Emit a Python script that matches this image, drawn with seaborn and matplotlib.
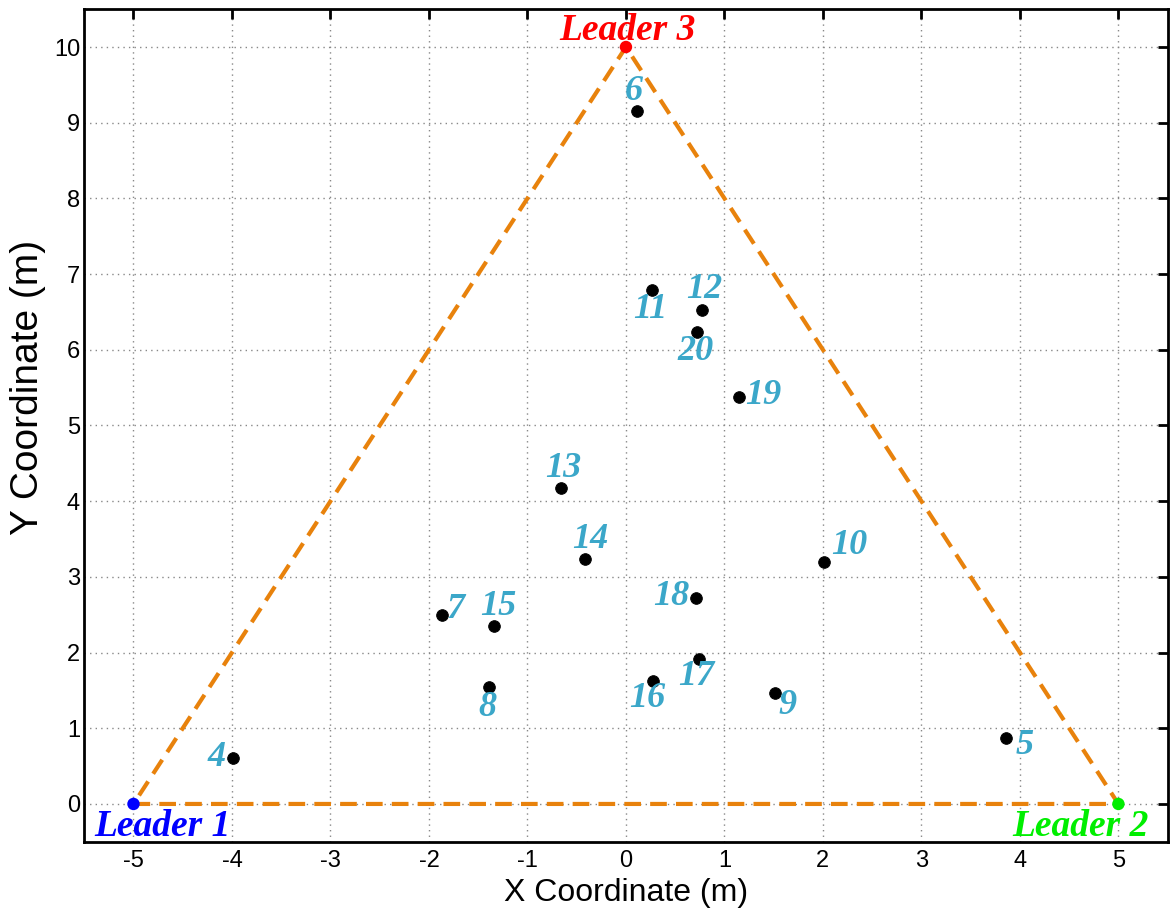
import matplotlib
matplotlib.use("Agg")
import matplotlib.pyplot as plt
import seaborn as sns
import pandas as pd

# ---- data ----
leader_names = ["Leader 1", "Leader 2", "Leader 3"]
leader_x = [-5.0, 5.0, 0.0]
leader_y = [0.0, 0.0, 10.0]

follower_ids = [4, 5, 6, 7, 8, 9, 10, 11, 12, 13, 14, 15, 16, 17, 18, 19, 20]
follower_x = [-3.99, 3.86, 0.11, -1.87, -1.39, 1.51, 2.01, 0.26, 0.77, -0.66,
              -0.42, -1.34, 0.27, 0.74, 0.71, 1.15, 0.72]
follower_y = [0.61, 0.87, 9.15, 2.50, 1.55, 1.47, 3.19, 6.79, 6.52, 4.18,
              3.24, 2.35, 1.63, 1.92, 2.72, 5.38, 6.24]

x_ticks = list(range(-5, 6))
y_ticks = list(range(0, 11))

# ---- layout / style ----
sns.set_style("white")
plt.rcParams["font.family"] = ["Liberation Sans", "DejaVu Sans"]

fig = plt.figure(figsize=(11.7, 9.16), dpi=100)
ax = fig.add_axes([0.072, 0.081, 0.926, 0.909])

# triangle (closed)
tri = pd.DataFrame({"x": leader_x + [leader_x[0]], "y": leader_y + [leader_y[0]],
                    "order": range(4)})
sns.lineplot(data=tri, x="x", y="y", sort=False, ax=ax, color="#E8820C",
             linewidth=3, linestyle=(0, (4, 2.2)), zorder=2, estimator=None)

# followers
fol = pd.DataFrame({"id": follower_ids, "x": follower_x, "y": follower_y})
sns.scatterplot(data=fol, x="x", y="y", ax=ax, color="black", s=70,
                edgecolor="black", zorder=4)

# leaders
lead = pd.DataFrame({"name": leader_names, "x": leader_x, "y": leader_y})
leader_colors = ["#0000FF", "#00EE00", "#FF0000"]
sns.scatterplot(data=lead, x="x", y="y", hue="name", palette=leader_colors,
                ax=ax, s=80, edgecolor="none", zorder=5, legend=False)

lead_font = dict(family=["Liberation Serif", "DejaVu Serif"], style="italic",
                 weight="bold", fontsize=27)
num_font = dict(family=["Liberation Serif", "DejaVu Serif"], style="italic",
                weight="bold", fontsize=26)

# leader labels (offsets in points)
leader_off = {"Leader 1": (21, -16), "Leader 2": (-27, -16), "Leader 3": (1, 12)}
for n, x, y, c in zip(leader_names, leader_x, leader_y, leader_colors):
    dx, dy = leader_off[n]
    ax.annotate(n, (x, y), xytext=(dx, dy), textcoords="offset points",
                ha="center", va="center", color=c, zorder=6, **lead_font)

# follower labels (offsets in points)
follower_off = {4: (-12, 0), 5: (13, -5), 6: (-2, 14), 7: (10, 4), 8: (-1, -15),
                9: (9, -9), 10: (18, 12), 11: (-1, -14), 12: (2, 15),
                13: (2, 14), 14: (4, 14), 15: (3, 14), 16: (-4, -13),
                17: (-2, -13), 18: (-18, 1), 19: (17, 1), 20: (-1, -14)}
for i, x, y in zip(follower_ids, follower_x, follower_y):
    dx, dy = follower_off[i]
    ax.annotate(str(i), (x, y), xytext=(dx, dy), textcoords="offset points",
                ha="center", va="center", color="#3BA7C9", zorder=6, **num_font)

ax.set_xlim(-5.5, 5.5)
ax.set_ylim(-0.5, 10.5)
ax.set_xticks(x_ticks)
ax.set_yticks(y_ticks)
ax.set_xticklabels([str(t) for t in x_ticks])
ax.set_yticklabels([str(t) for t in y_ticks])
ax.tick_params(direction="in", length=7, width=2, top=True, right=True,
               labelsize=17, colors="black")
ax.tick_params(axis="x", labeltop=False, pad=6)
ax.tick_params(axis="y", labelright=False, pad=3)
ax.grid(True, linestyle=(0, (1, 3)), color="#888888", linewidth=1)
ax.set_axisbelow(True)
for sp in ax.spines.values():
    sp.set_linewidth(2)
    sp.set_color("black")

ax.set_xlabel("X Coordinate (m)", fontsize=23, labelpad=4, color="black")
ax.set_ylabel("Y Coordinate (m)", fontsize=28, color="black")
ax.yaxis.set_label_coords(-0.035, 0.546)

fig.savefig("out.png", dpi=100)
